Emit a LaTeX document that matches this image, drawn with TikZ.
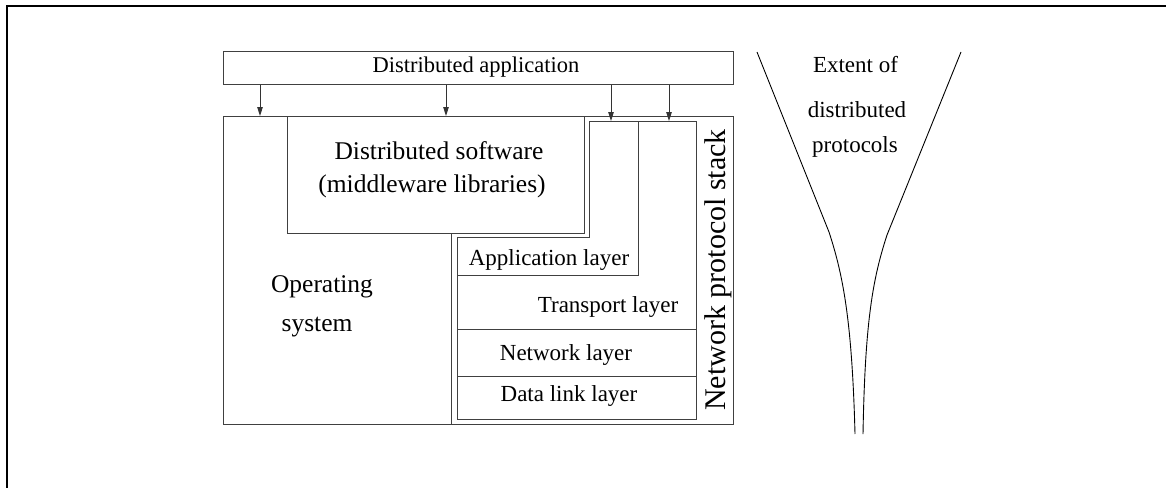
\documentclass[tikz,border=0pt]{standalone}
\usepackage{fontspec}
\setmainfont{Liberation Serif}
\usetikzlibrary{arrows.meta}
\begin{document}
\begin{tikzpicture}[x=1pt,y=-1pt,
  box/.style={draw=black!75,line width=1pt,inner sep=0pt},
  ln/.style={draw=black!75,line width=1pt},
  arr/.style={draw=black!80,line width=0.9pt,-{Triangle[length=9pt,width=5.5pt]}},
  funnel/.style={draw=black,line width=0.9pt},
  txtA/.style={inner sep=0pt,anchor=base,font=\fontsize{22.5}{26}\selectfont},
  txtB/.style={inner sep=0pt,anchor=base,font=\fontsize{25.5}{30}\selectfont},
  txtC/.style={inner sep=0pt,anchor=base,font=\fontsize{23}{27}\selectfont},
  txtD/.style={inner sep=0pt,font=\fontsize{30}{34}\selectfont}]
\useasboundingbox (0,0) rectangle (1166,487);
% frame
\draw[line width=2.8pt,line cap=rect] (7,490) -- (7,6) -- (1170,6);
% boxes
\node[box,minimum width=510pt,minimum height=32pt] (app) at (478,68) {};
\node[box,minimum width=510pt,minimum height=308pt] (os) at (478,270) {};
\draw[ln] (287,116) -- (287,233) -- (584,233) -- (584,116);
\draw[ln] (451,233) -- (451,424);
\draw[ln] (589,121) -- (696,121) -- (696,419) -- (457,419) -- (457,237) -- (589,237) -- cycle;
\draw[ln] (638,121) -- (638,275) -- (457,275);
\draw[ln] (457,329) -- (696,329);
\draw[ln] (457,376) -- (696,376);
% arrow targets
\coordinate (a1) at (260,116);
\coordinate (a2) at (446,116);
\coordinate (a3) at (611,121);
\coordinate (a4) at (669,121);
\draw[arr] (app.south -| a1) -- (a1);
\draw[arr] (app.south -| a2) -- (a2);
\draw[arr] (app.south -| a3) -- (a3);
\draw[arr] (app.south -| a4) -- (a4);
% texts
\node[txtA] (tapp) at (476,73) {Distributed application};
\node[txtB] (tsw1) at (439,159) {Distributed software};
\node[txtB] (tsw2) at (432,192) {(middleware libraries)};
\node[txtB] (tos1) at (322,292) {Operating};
\node[txtB] (tos2) at (317,331) {system};
\node[txtC] (tal) at (549,265) {Application layer};
\node[txtC] (ttl) at (608,312.5) {Transport layer};
\node[txtC] (tnl) at (566,360) {Network layer};
\node[txtC] (tdl) at (569,401.5) {Data link layer};
\node[txtD,rotate=90] (tnps) at (718.5,270) {Network protocol stack};
\node[txtC] (te1) at (855.5,73) {Extent of};
\node[txtC] (te2) at (857,117) {distributed};
\node[txtC] (te3) at (855,152) {protocols};
% funnel
\draw[funnel] (757,52) -- (829,232) .. controls (843,275) and (852,320) .. (855,434);
\draw[funnel] (961,52) -- (887,235) .. controls (873,278) and (865,320) .. (863,434);
\end{tikzpicture}
\end{document}
